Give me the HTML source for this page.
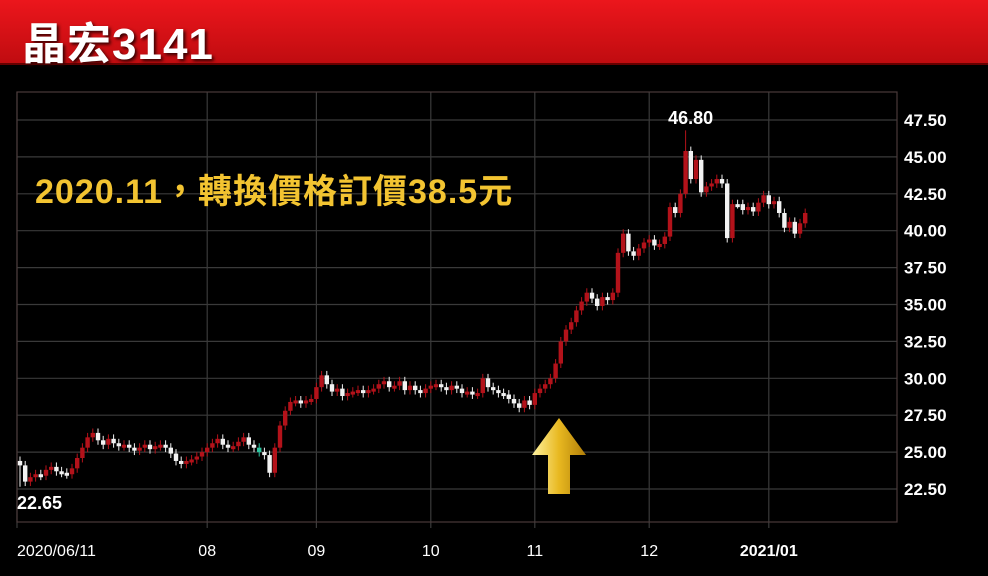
<!DOCTYPE html>
<html><head><meta charset="utf-8"><style>
body{margin:0;background:#000;width:988px;height:576px;overflow:hidden;font-family:"Liberation Sans","Noto Sans CJK TC",sans-serif}
#banner{position:absolute;left:0;top:0;width:988px;height:63px;background:linear-gradient(#ec161c,#c00c10);border-bottom:2px solid #600}
#title{position:absolute;left:22px;top:8px;color:#fff;font-size:44px;font-weight:bold;letter-spacing:1px;text-shadow:2px 2px 3px #300}
</style></head><body>
<div id="banner"><div id="title">晶宏3141</div></div>
<svg id="chart" width="988" height="576" style="position:absolute;left:0;top:0"></svg>
<script>
const closes=[24.1,23.0,23.3,23.5,23.4,23.8,24.0,23.7,23.6,23.5,
23.9,24.6,25.3,26.0,26.3,25.8,25.5,25.9,25.6,25.4,
25.5,25.3,25.1,25.3,25.5,25.2,25.4,25.5,25.3,24.9,
24.4,24.2,24.4,24.5,24.7,25.0,
25.3,25.6,25.9,25.5,25.3,25.4,25.7,26.0,25.5,25.3,
25.0,24.8,23.6,25.3,26.8,27.8,28.4,28.5,28.3,28.5,
28.6,29.4,30.2,29.6,29.1,29.3,28.8,29.0,29.1,29.2,
29.0,29.2,29.3,29.6,29.8,29.4,29.5,29.8,29.2,29.5,
29.2,29.0,29.3,29.5,29.6,29.4,29.2,29.5,29.3,29.0,
29.1,28.9,29.0,30.0,29.4,29.2,29.0,28.9,28.6,28.3,
28.0,28.5,28.2,29.0,29.3,29.6,30.0,31.0,32.5,33.3,
33.8,34.6,35.2,35.8,35.4,34.9,35.5,35.3,35.8,38.5,
39.8,38.6,38.3,38.8,39.2,39.4,39.0,39.1,39.6,41.6,
41.2,42.5,45.4,43.5,44.8,42.6,43.0,43.2,43.5,43.2,
39.5,41.8,41.8,41.4,41.6,41.3,41.9,42.4,41.8,42.0,
41.2,40.2,40.6,39.8,40.5,41.2];
const firstOpen=24.4;
const yTicks=[22.5,25,27.5,30,32.5,35,37.5,40,42.5,45,47.5];
const xLabels=["2020/06/11","08","09","10","11","12","2021/01"];
const xLabelIdx=[0,36,57,79,99,121,144];
const lowLabel=22.65, highLabel=46.80, highIdx=128;

const svg=document.getElementById('chart');const NS='http://www.w3.org/2000/svg';
const L=17,R=897,T=92,B=522;
const y=p=>489-(p-22.5)*14.76;
const x=i=>20+i*5.2;
function mk(t,a,p){const e=document.createElementNS(NS,t);for(const k in a)e.setAttribute(k,a[k]);(p||svg).appendChild(e);return e;}
yTicks.forEach(v=>{
 const g=mk('line',{x1:L,x2:R,y1:y(v),y2:y(v),stroke:'#3a3a3a','stroke-width':1.2});
 
 
 const t=mk('text',{x:904,y:y(v)+6,fill:'#fff','font-size':17,'font-weight':'bold'});t.textContent=v.toFixed(2);
 
 
});
xLabels.forEach((s,k)=>{
 const xx=k==0?L:x(xLabelIdx[k]);
 const g=mk('line',{x1:xx,x2:xx,y1:T,y2:B+6,stroke:'#3a3a3a','stroke-width':1.2});
 
 
 const t=mk('text',{x:xx,y:556,fill:'#fff','font-size':16,'font-weight':k==6?'bold':'normal','text-anchor':k==0?'start':'middle'});t.textContent=s;
 
 
});
const fr=mk('rect',{x:L,y:T,width:R-L,height:B-T,fill:'none',stroke:'#4a3a3a','stroke-width':1.2});


closes.forEach((c,i)=>{
 const o=i?closes[i-1]:firstOpen;
 const up=c>o, col=(i==46)?'#2ec4a0':(up?'#b3121a':'#f2f2f2');
 const hi=i==highIdx?highLabel:Math.max(o,c)+0.3, lo=i==0?lowLabel:Math.min(o,c)-0.3;
 const w=mk('line',{x1:x(i),x2:x(i),y1:y(hi),y2:y(lo),stroke:col,'stroke-width':1});
 
 
 const top=y(Math.max(o,c)),bot=y(Math.min(o,c));
 const r=mk('rect',{x:x(i)-2.2,y:top,width:4.4,height:Math.max(3,bot-top),fill:col});
 
 
});
const lt=mk('text',{x:17,y:509,fill:'#fff','font-size':18,'font-weight':'bold'});lt.textContent=lowLabel.toFixed(2);


const ht=mk('text',{x:x(highIdx)+5,y:124,fill:'#fff','font-size':18,'font-weight':'bold','text-anchor':'middle'});ht.textContent=highLabel.toFixed(2);


const an=mk('text',{x:35,y:203,fill:'#f3c431','font-size':34,'font-weight':'bold','letter-spacing':'1'});an.textContent='2020.11，轉換價格訂價38.5元';


const defs=mk('defs',{});const gr=mk('linearGradient',{id:'gold',x1:0,x2:1,y1:0,y2:0},defs);
mk('stop',{offset:'0','stop-color':'#fff3a0'},gr);mk('stop',{offset:'0.5','stop-color':'#e8b820'},gr);mk('stop',{offset:'1','stop-color':'#b07d08'},gr);
const ar=mk('polygon',{points:'559,418 586,455 570,455 570,494 548,494 548,455 532,455',fill:'url(#gold)'});


</script>
</body></html>
